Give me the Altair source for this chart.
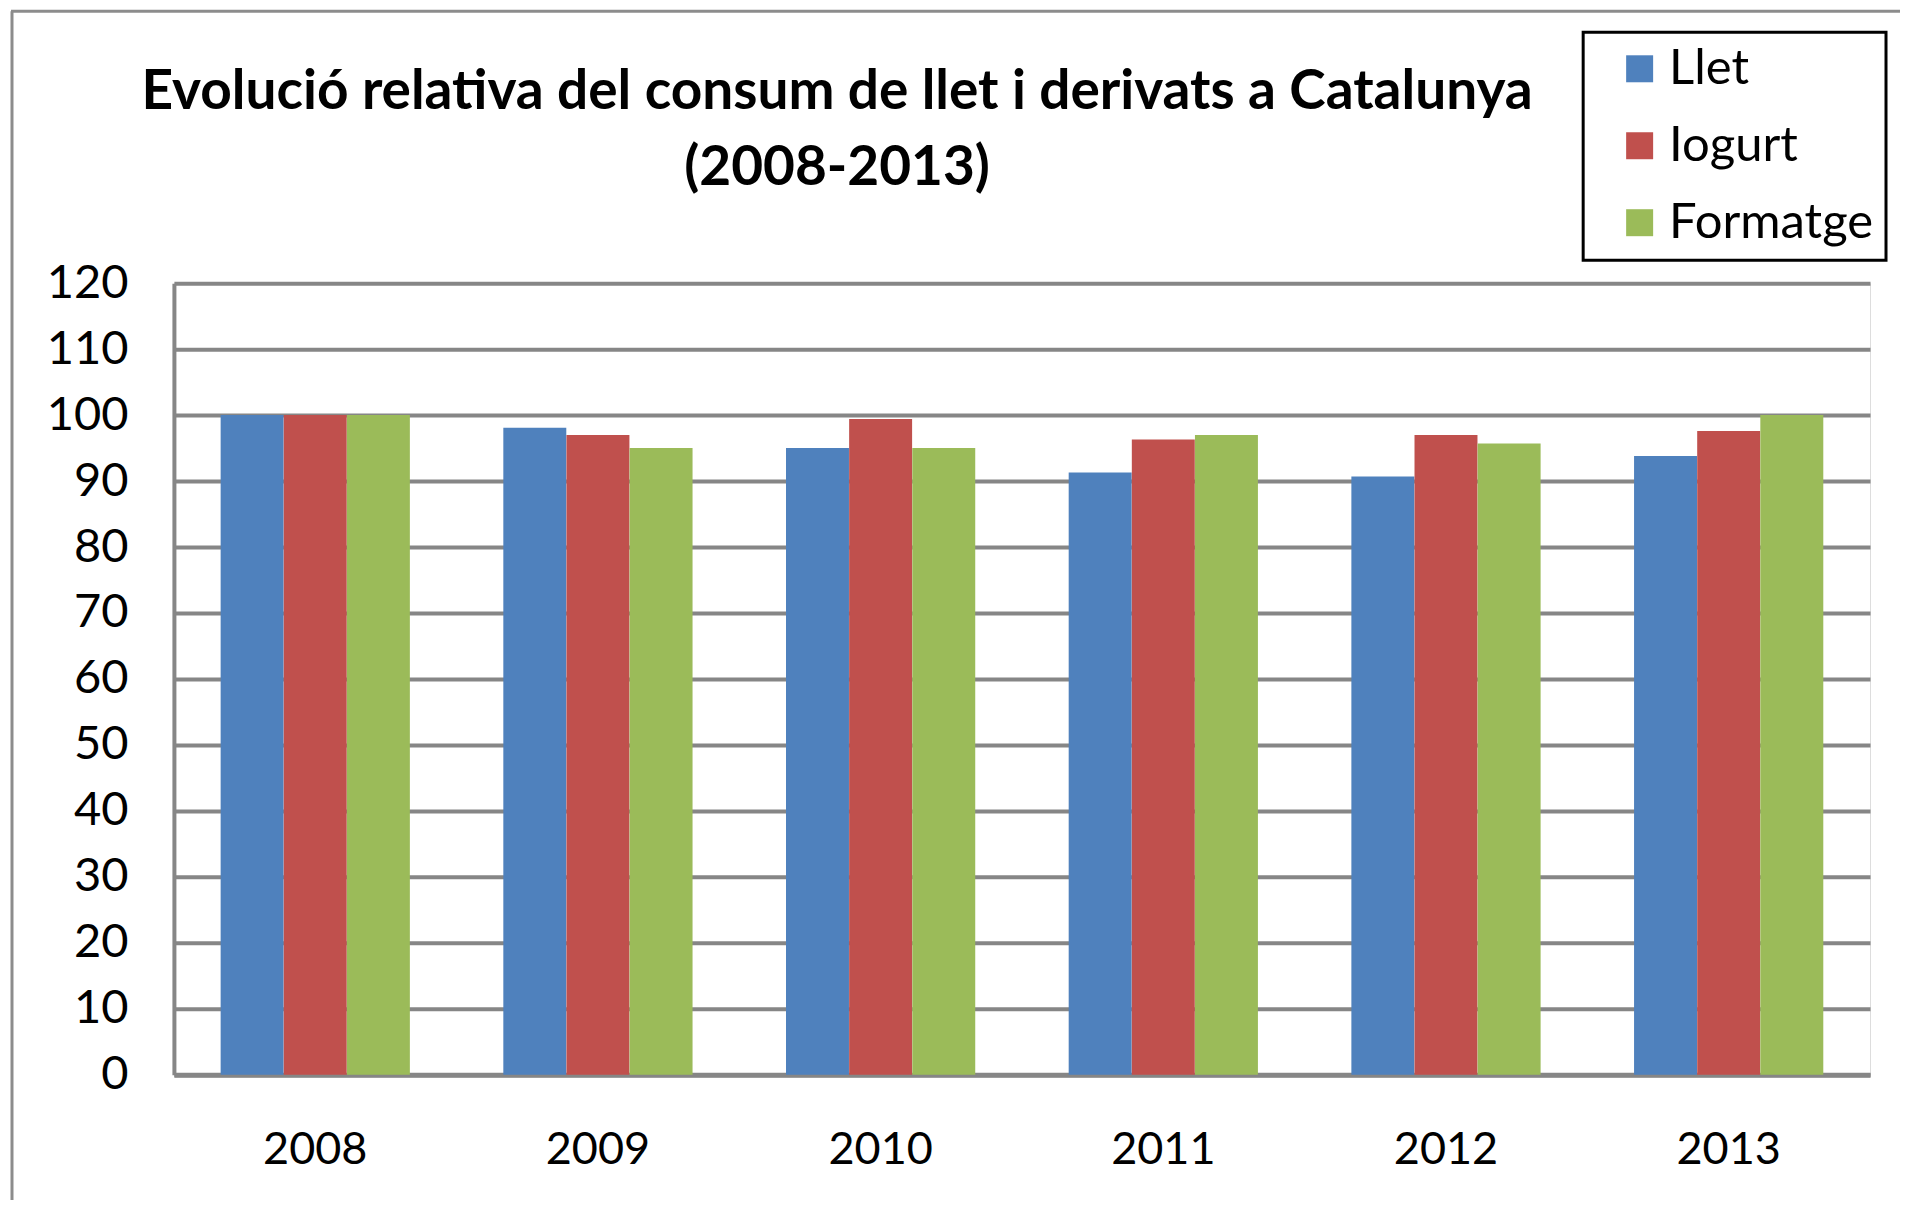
import altair as alt
import pandas as pd

years = ["2008", "2009", "2010", "2011", "2012", "2013"]
series = ["Llet", "Iogurt", "Formatge"]
llet = [100, 98.1, 95.0, 91.3, 90.7, 93.8]
iogurt = [100, 97.0, 99.4, 96.3, 97.0, 97.6]
formatge = [100, 95.0, 95.0, 97.0, 95.7, 100]
colors = ["#4F81BD", "#C0504D", "#9BBB59"]
y_ticks = list(range(0, 121, 10))
title_lines = ["Evolució relativa del consum de llet i derivats a Catalunya", "(2008-2013)"]

rows = []
for s, vals in zip(series, [llet, iogurt, formatge]):
    for yr, v in zip(years, vals):
        rows.append({"year": yr, "series": s, "value": v})
df = pd.DataFrame(rows)

FONT = "Lato"
GRAY = "#868686"

bars = alt.Chart(df).mark_bar(size=63).encode(
    x=alt.X("year:N", sort=years, title=None,
            scale=alt.Scale(paddingInner=0.33, paddingOuter=0.165),
            axis=alt.Axis(labelAngle=0, labelFont=FONT, labelFontSize=45, labelColor="black",
                          labelPadding=53, ticks=False, domainColor=GRAY, domainWidth=5, grid=False)),
    xOffset=alt.XOffset("series:N", sort=series, scale=alt.Scale(paddingInner=0, paddingOuter=0)),
    y=alt.Y("value:Q", title=None,
            scale=alt.Scale(domain=[0, 120], nice=False),
            axis=alt.Axis(values=y_ticks, labelFont=FONT, labelFontSize=47, labelColor="black",
                          labelPadding=46, ticks=False, domainColor=GRAY, domainWidth=4,
                          gridColor=GRAY, gridWidth=4)),
    color=alt.Color("series:N", sort=series,
                    scale=alt.Scale(domain=series, range=colors),
                    legend=alt.Legend(title=None, orient="none", legendX=1410, legendY=-251,
                                      strokeColor="black", fillColor="white",
                                      padding=12, symbolType="square", symbolSize=729,
                                      symbolStrokeWidth=0, symbolOffset=20, labelOffset=5,
                                      labelFont=FONT, labelFontSize=49, labelColor="black",
                                      labelLimit=500, rowPadding=27)),
)

frame_left = alt.Chart(pd.DataFrame({"a": [0]})).mark_rule(color="#8c8c8c", strokeWidth=3).encode(
    x=alt.value(-162), y=alt.value(-272), y2=alt.value(940))
frame_top = alt.Chart(pd.DataFrame({"a": [0]})).mark_rule(color="#8c8c8c", strokeWidth=3).encode(
    x=alt.value(-163), x2=alt.value(1740), y=alt.value(-272))

chart = alt.layer(frame_left, frame_top, bars).properties(
    width=1697, height=792,
    padding={"left": 166, "top": 275, "right": 30, "bottom": 125},
    autosize=alt.AutoSizeParams(type="none"),
    title=alt.TitleParams(text=title_lines, font=FONT, fontSize=55, fontWeight="bold", color="black",
                          anchor="middle", frame="group", dx=-185, offset=0, dy=230,
                          baseline="alphabetic", lineHeight=76),
).configure_view(stroke=None).configure(background="white").configure_legend(strokeWidth=3)

chart.save("out.html", embed_options={"renderer": "svg", "actions": False})
